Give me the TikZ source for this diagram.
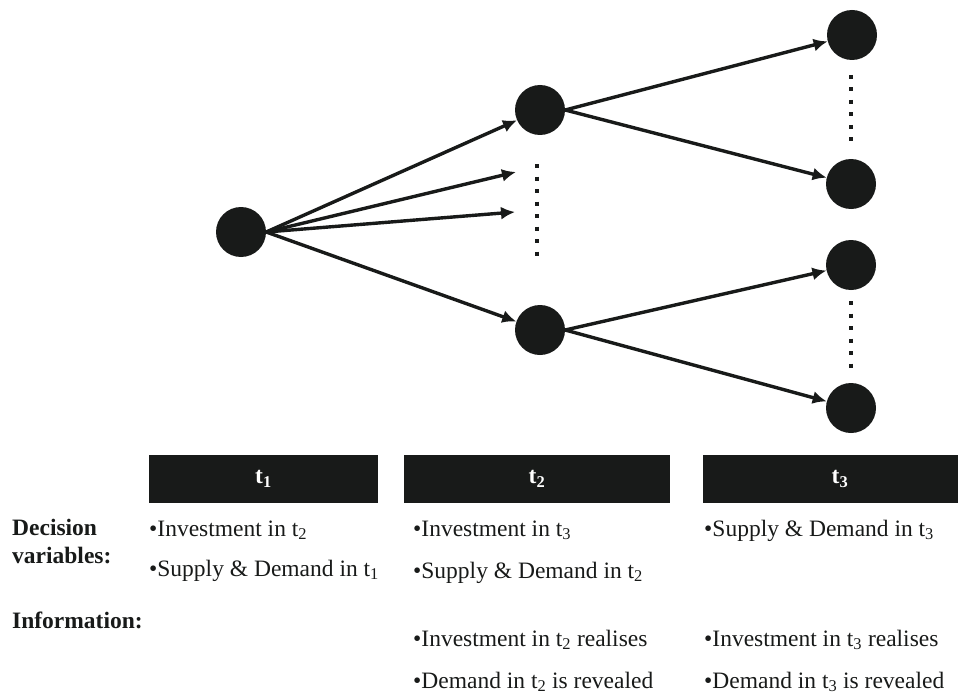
\documentclass[tikz,border=0pt]{standalone}
\usepackage{fontspec}
\setmainfont{Liberation Serif}
\usetikzlibrary{arrows.meta}

\definecolor{ink}{RGB}{24,26,25}

\tikzset{
  state/.style={circle, fill=ink, minimum size=50pt, inner sep=0pt},
  branch/.style={draw=ink, line width=3.4pt, -{Latex[length=14pt,width=13pt]}},
  more/.style={draw=ink, line width=4pt, dash pattern=on 4pt off 8.5pt},
  period/.style={rectangle, fill=ink, minimum height=48pt, inner sep=0pt,
    text=white, font=\fontsize{23.5}{28}\selectfont\bfseries},
  item/.style={anchor=base west, inner sep=0pt, text=ink,
    font=\fontsize{23.5}{28}\selectfont},
  head/.style={anchor=north west, inner sep=0pt, align=left, text=ink,
    font=\fontsize{23.5}{28}\selectfont\bfseries},
}

\begin{document}
\begin{tikzpicture}[x=1pt, y=-1pt]
  \path[use as bounding box, clip] (0,0) rectangle (958,698);

  % scenario tree
  \node[state] (root) at (241,232) {};
  \node[state] (up) at (540,110) {};
  \node[state] (down) at (540,330) {};
  \node[state] (r1) at (852,35) {};
  \node[state] (r2) at (851,184) {};
  \node[state] (r3) at (851,265) {};
  \node[state] (r4) at (851,408) {};
  \coordinate (m1) at (516,172);
  \coordinate (m2) at (515,212);

  \draw[branch] (root.east) -- (up);
  \draw[branch] (root.east) -- (m1);
  \draw[branch] (root.east) -- (m2);
  \draw[branch] (root.east) -- (down);
  \draw[branch] (up.east) -- (r1);
  \draw[branch] (up.east) -- (r2);
  \draw[branch] (down.east) -- (r3);
  \draw[branch] (down.east) -- (r4);

  % omitted branches
  \coordinate (d1a) at (537,164);
  \coordinate (d1b) at (537,256);
  \coordinate (d2a) at (851,75);
  \coordinate (d2b) at (851,142);
  \coordinate (d3a) at (851,301);
  \coordinate (d3b) at (851,369);
  \draw[more] (d1a) -- (d1b);
  \draw[more] (d2a) -- (d2b);
  \draw[more] (d3a) -- (d3b);

  % periods
  \node[period, minimum width=229pt] (bar1) at (263.5,479) {t\textsubscript{1}};
  \node[period, minimum width=266pt] (bar2) at (537,479) {t\textsubscript{2}};
  \node[period, minimum width=274pt] (bar3) at (840,479) {t\textsubscript{3}};

  \node[head] (dec) at (12,519) {Decision\\variables:};
  \node[head] (info) at (12,612) {Information:};

  \node[item] (a1) at (149,536) {\textbullet Investment in t\textsubscript{2}};
  \node[item] (a2) at (149,576) {\textbullet Supply \& Demand in t\textsubscript{1}};
  \node[item] (b1) at (413,536) {\textbullet Investment in t\textsubscript{3}};
  \node[item] (b2) at (413,578) {\textbullet Supply \& Demand in t\textsubscript{2}};
  \node[item] (c1) at (704,536) {\textbullet Supply \& Demand in t\textsubscript{3}};
  \node[item] (b3) at (413,646) {\textbullet Investment in t\textsubscript{2} realises};
  \node[item] (b4) at (413,688) {\textbullet Demand in t\textsubscript{2} is revealed};
  \node[item] (c3) at (704,646) {\textbullet Investment in t\textsubscript{3} realises};
  \node[item] (c4) at (704,688) {\textbullet Demand in t\textsubscript{3} is revealed};
\end{tikzpicture}
\end{document}
